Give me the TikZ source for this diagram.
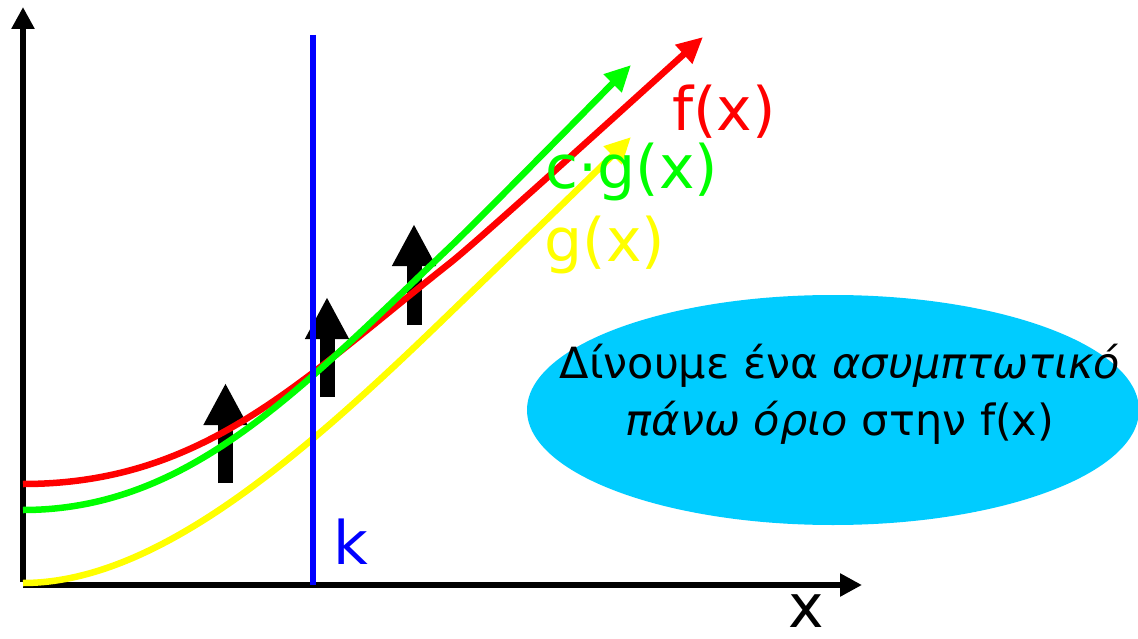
\documentclass[tikz,border=0pt]{standalone}
\usepackage{fontspec}
\setmainfont{DejaVu Sans}
\usetikzlibrary{arrows.meta,shapes.geometric}
\definecolor{myred}{RGB}{255,0,0}
\definecolor{mygreen}{RGB}{0,255,0}
\definecolor{myyellow}{RGB}{255,255,0}
\definecolor{myblue}{RGB}{0,0,255}
\definecolor{mycyan}{RGB}{0,204,255}
\begin{document}
\begin{tikzpicture}[x=1pt,y=-1pt,
 curve/.style={line width=6.5pt, -{Triangle[length=26pt,width=24pt]}},
 axis/.style={line width=6pt, -{Triangle[length=22pt,width=22pt]}},
 bigarrow/.style={line width=15pt, -{Triangle[length=42pt,width=41pt]}},
 lbl/.style={font=\fontsize{60}{60}\selectfont, inner sep=0pt},
 msg/.style={font=\fontsize{43}{57}\selectfont, align=center, inner sep=0pt}]
\useasboundingbox (0,0) rectangle (1138,639);
\fill[white] (0,0) rectangle (1138,639);
% ellipse
\node[ellipse, fill=mycyan, minimum width=612pt, minimum height=230pt, inner sep=0pt] (bubble) at (833,410) {};
\node[msg] (msgtext) at (840,394) {Δίνουμε ένα \textit{ασυμπτωτικό}\\\textit{πάνω όριο} στην f(x)};
% axes
\coordinate (O) at (23,585);
\coordinate (ytop) at (23,7);
\coordinate (xend) at (862,585);
\draw[axis] ([yshift=3pt]O) -- (ytop);
\draw[axis] (O) -- (xend);
% black arrows
\coordinate (a1s) at (225.5,483); \coordinate (a1t) at (225.5,383);
\coordinate (a2s) at (327,397); \coordinate (a2t) at (327,297);
\coordinate (a3s) at (414,325); \coordinate (a3t) at (414,224);
\draw[bigarrow] (a1s) -- (a1t);
\draw[bigarrow] (a2s) -- (a2t);
\draw[bigarrow] (a3s) -- (a3t);
% curves
\draw[curve, myyellow] (23,583) .. controls (156,583) and (300,458.5) .. (450,313) .. controls (480,284) and (600,168) .. (631,137);
\draw[curve, myred] (23,484) .. controls (203,484) and (300,381.5) .. (450,263) .. controls (480,239.3) and (650,84.7) .. (703,37);
\draw[curve, mygreen] (23,510) .. controls (189,510) and (300,389.5) .. (450,247) .. controls (480,218.5) and (600,96) .. (631,65);
% blue line
\coordinate (kTop) at (313,35);
\coordinate (kBot) at (313,585);
\draw[myblue, line width=6pt] (kTop) -- (kBot);
% labels
\node[lbl, text=myred] (flbl) at (724,112) {f(x)};
\node[lbl, text=mygreen] (cglbl) at (632,172) {c·g(x)};
\node[lbl, text=myyellow] (glbl) at (605,245) {g(x)};
\node[lbl, text=myblue, anchor=base] (klbl) at (351,564) {k};
\node[lbl, anchor=base] (xlbl) at (806,627) {x};
\end{tikzpicture}
\end{document}
